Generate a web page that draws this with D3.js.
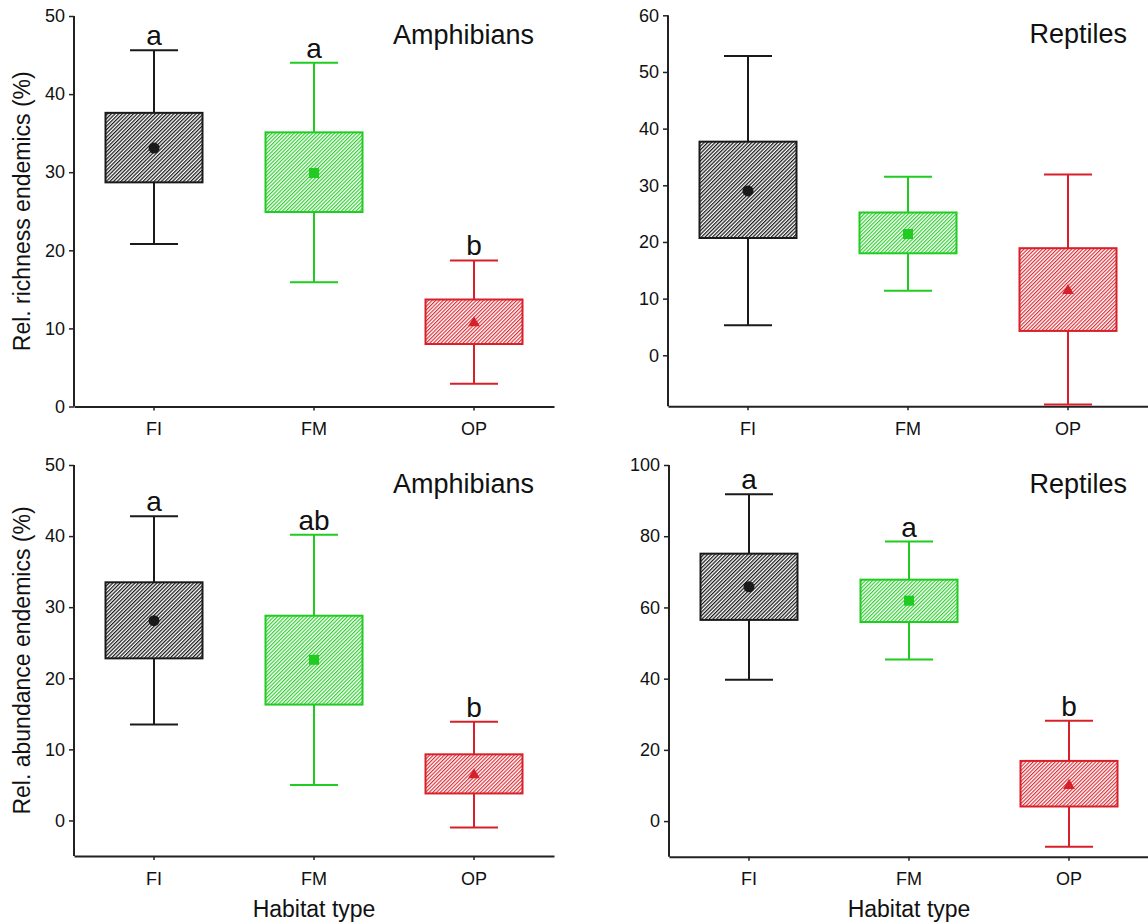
<!DOCTYPE html>
<html>
<head>
<meta charset="utf-8">
<script src="https://cdn.jsdelivr.net/npm/d3@7/dist/d3.min.js"></script>
<style>
  html, body { margin: 0; padding: 0; background: #fff; }
  svg text { font-family: "Liberation Sans", Arial, Helvetica, sans-serif; fill: #111; }
</style>
</head>
<body>
<svg id="chart" width="1148" height="924"></svg>
<script>
// ---------------- data ----------------
const categories = ["FI", "FM", "OP"];

// Panel A: relative richness of endemics, amphibians
const richAmphHi   = [45.6, 44.0, 18.7];
const richAmphQ3   = [37.6, 35.1, 13.7];
const richAmphMean = [33.1, 29.9, 10.7];
const richAmphQ1   = [28.7, 24.9, 8.0];
const richAmphLo   = [20.8, 15.9, 2.9];
const richAmphLetters = ["a", "a", "b"];
const richAmphTicks = [0, 10, 20, 30, 40, 50];

// Panel B: relative richness of endemics, reptiles
const richReptHi   = [52.8, 31.5, 31.9];
const richReptQ3   = [37.7, 25.2, 18.9];
const richReptMean = [29.0, 21.4, 11.4];
const richReptQ1   = [20.7, 18.0, 4.3];
const richReptLo   = [5.3, 11.4, -8.7];
const richReptLetters = ["", "", ""];
const richReptTicks = [0, 10, 20, 30, 40, 50, 60];

// Panel C: relative abundance of endemics, amphibians
const abunAmphHi   = [42.8, 40.2, 13.9];
const abunAmphQ3   = [33.5, 28.8, 9.3];
const abunAmphMean = [28.1, 22.6, 6.4];
const abunAmphQ1   = [22.8, 16.3, 3.8];
const abunAmphLo   = [13.5, 5.0, -1.0];
const abunAmphLetters = ["a", "ab", "b"];
const abunAmphTicks = [0, 10, 20, 30, 40, 50];

// Panel D: relative abundance of endemics, reptiles
const abunReptHi   = [91.8, 78.5, 28.2];
const abunReptQ3   = [75.1, 67.8, 16.9];
const abunReptMean = [65.8, 61.9, 10.0];
const abunReptQ1   = [56.5, 55.9, 4.1];
const abunReptLo   = [39.7, 45.4, -7.2];
const abunReptLetters = ["a", "a", "b"];
const abunReptTicks = [0, 20, 40, 60, 80, 100];

const groupColors = ["#1a1a1a", "#1fcc1f", "#d8202a"];
const hatchColors = ["#1a1a1a", "#22cc22", "#d8202a"];
const symbols = [d3.symbolCircle, d3.symbolSquare, d3.symbolTriangle];
const symbolSizes = [95, 100, 60];

// ---------------- layout ----------------
const panels = [
  { title: "Amphibians", ylabel: "Rel. richness endemics (%)", domain: [0, 50], ticks: richAmphTicks,
    hi: richAmphHi, q3: richAmphQ3, mean: richAmphMean, q1: richAmphQ1, lo: richAmphLo, letters: richAmphLetters,
    x0: 74, x1: 554, yTop: 16, yBot: 406.5, xlabel: false },
  { title: "Reptiles", ylabel: null, domain: [-9, 60], ticks: richReptTicks,
    hi: richReptHi, q3: richReptQ3, mean: richReptMean, q1: richReptQ1, lo: richReptLo, letters: richReptLetters,
    x0: 668, x1: 1148, yTop: 15.3, yBot: 406.3, xlabel: false },
  { title: "Amphibians", ylabel: "Rel. abundance endemics (%)", domain: [-5, 50], ticks: abunAmphTicks,
    hi: abunAmphHi, q3: abunAmphQ3, mean: abunAmphMean, q1: abunAmphQ1, lo: abunAmphLo, letters: abunAmphLetters,
    x0: 74, x1: 554, yTop: 465, yBot: 856, xlabel: true },
  { title: "Reptiles", ylabel: null, domain: [-10, 100], ticks: abunReptTicks,
    hi: abunReptHi, q3: abunReptQ3, mean: abunReptMean, q1: abunReptQ1, lo: abunReptLo, letters: abunReptLetters,
    x0: 669, x1: 1149, yTop: 465, yBot: 856.7, xlabel: true }
];

const svg = d3.select("#chart");

// hatch patterns
const defs = svg.append("defs");
hatchColors.forEach((c, i) => {
  const p = defs.append("pattern")
    .attr("id", "hatch" + i)
    .attr("patternUnits", "userSpaceOnUse")
    .attr("width", 2.6).attr("height", 2.6)
    .attr("patternTransform", "rotate(45)");
  p.append("rect").attr("width", 2.6).attr("height", 2.6).attr("fill", "#fff");
  p.append("line").attr("x1", 0.6).attr("y1", 0).attr("x2", 0.6).attr("y2", 2.6)
    .attr("stroke", c).attr("stroke-width", i === 0 ? 1.3 : 1.1);
});

const boxWidth = 97;
const capWidth = 48;

panels.forEach(P => {
  const g = svg.append("g");
  const x = d3.scaleBand().domain(categories).range([P.x0, P.x1]);
  const y = d3.scaleLinear().domain(P.domain).range([P.yBot, P.yTop]);
  const cx = d => x(d) + x.bandwidth() / 2;

  // y axis
  const yAxis = g.append("g")
    .attr("transform", `translate(${P.x0},0)`)
    .call(d3.axisLeft(y).tickValues(P.ticks).tickSize(5).tickSizeOuter(0).tickPadding(4));
  yAxis.select(".domain").attr("stroke", "#222").attr("stroke-width", 2)
    .attr("d", `M0,${P.yTop}V${P.yBot}`);
  yAxis.selectAll(".tick line").attr("stroke", "#222").attr("stroke-width", 1.5);
  yAxis.selectAll(".tick text").attr("font-size", 18).attr("fill", "#222");

  // x axis
  const xAxis = g.append("g")
    .attr("transform", `translate(0,${P.yBot})`)
    .call(d3.axisBottom(x).tickSize(4).tickSizeOuter(0).tickPadding(12));
  xAxis.select(".domain").attr("stroke", "#222").attr("stroke-width", 2);
  xAxis.selectAll(".tick line").attr("stroke", "#222").attr("stroke-width", 1.5);
  xAxis.selectAll(".tick text").attr("font-size", 18).attr("fill", "#222");

  // whiskers, boxes, means, letters
  categories.forEach((c, i) => {
    const col = groupColors[i];
    const xc = cx(c);
    g.append("line").attr("x1", xc).attr("x2", xc).attr("y1", y(P.hi[i])).attr("y2", y(P.q3[i]))
      .attr("stroke", col).attr("stroke-width", 2);
    g.append("line").attr("x1", xc).attr("x2", xc).attr("y1", y(P.q1[i])).attr("y2", y(P.lo[i]))
      .attr("stroke", col).attr("stroke-width", 2);
    g.append("line").attr("x1", xc - capWidth / 2).attr("x2", xc + capWidth / 2)
      .attr("y1", y(P.hi[i])).attr("y2", y(P.hi[i])).attr("stroke", col).attr("stroke-width", 2);
    g.append("line").attr("x1", xc - capWidth / 2).attr("x2", xc + capWidth / 2)
      .attr("y1", y(P.lo[i])).attr("y2", y(P.lo[i])).attr("stroke", col).attr("stroke-width", 2);
    g.append("rect").attr("x", xc - boxWidth / 2).attr("width", boxWidth)
      .attr("y", y(P.q3[i])).attr("height", y(P.q1[i]) - y(P.q3[i]))
      .attr("fill", `url(#hatch${i})`).attr("stroke", col).attr("stroke-width", 2);
    g.append("path")
      .attr("d", d3.symbol().type(symbols[i]).size(symbolSizes[i])())
      .attr("transform", `translate(${xc},${y(P.mean[i])})`)
      .attr("fill", col);
    if (P.letters[i]) {
      g.append("text").attr("x", xc).attr("y", y(P.hi[i]) - 5)
        .attr("text-anchor", "middle").attr("font-size", 28).attr("fill", "#111")
        .text(P.letters[i]);
    }
  });

  // title
  if (P.title === "Amphibians") {
    g.append("text").attr("x", P.x0 + 319).attr("y", P.yTop + 28)
      .attr("font-size", 27).text(P.title);
  } else {
    g.append("text").attr("x", 1127).attr("y", P.yTop + 28)
      .attr("text-anchor", "end").attr("font-size", 27).text(P.title);
  }

  // y label
  if (P.ylabel) {
    g.append("text")
      .attr("transform", `translate(30,${(P.yTop + P.yBot) / 2}) rotate(-90)`)
      .attr("text-anchor", "middle").attr("font-size", 23).text(P.ylabel);
  }
  // x label
  if (P.xlabel) {
    g.append("text").attr("x", (P.x0 + P.x1) / 2).attr("y", 917)
      .attr("text-anchor", "middle").attr("font-size", 23).text("Habitat type");
  }
});
</script>
</body>
</html>
